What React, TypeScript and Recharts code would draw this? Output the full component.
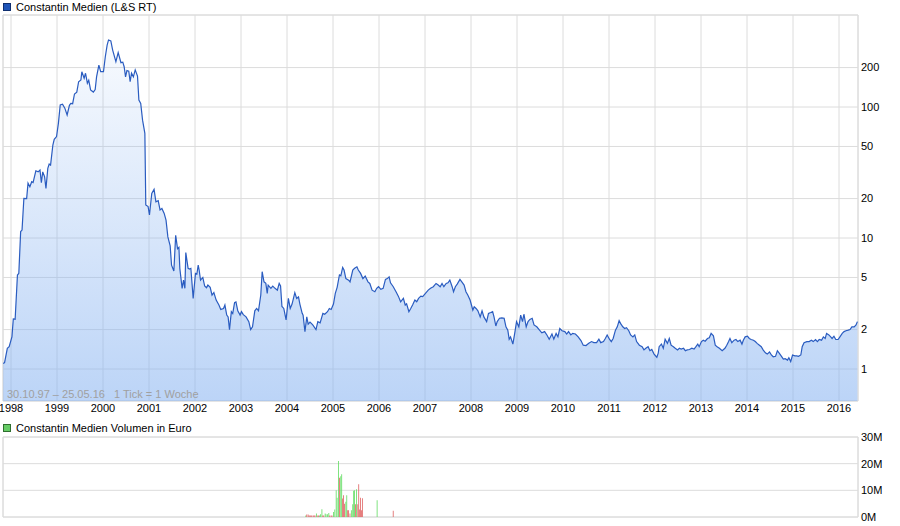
import React from 'react'
import { ComposedChart, Area, Bar, Cell, XAxis, YAxis, CartesianGrid, ReferenceArea } from 'recharts'

// Wochenkurse (Jahr als Dezimalzahl) – Constantin Medien, L&S RT
const priceDates = [
  1997.83, 1997.86, 1997.92, 1997.96, 1998.02, 1998.05, 1998.09, 1998.14, 1998.17, 1998.21,
  1998.24, 1998.28, 1998.34, 1998.37, 1998.41, 1998.45, 1998.48, 1998.54, 1998.59, 1998.63,
  1998.66, 1998.69, 1998.73, 1998.76, 1998.8, 1998.83, 1998.86, 1998.91, 1998.94, 1998.99,
  1999.03, 1999.07, 1999.12, 1999.17, 1999.22, 1999.27, 1999.3, 1999.34, 1999.38, 1999.43,
  1999.47, 1999.52, 1999.54, 1999.59, 1999.62, 1999.66, 1999.69, 1999.73, 1999.79, 1999.83,
  1999.86, 1999.91, 1999.95, 2000.01, 2000.05, 2000.09, 2000.12, 2000.17, 2000.21, 2000.28,
  2000.33, 2000.39, 2000.43, 2000.46, 2000.49, 2000.52, 2000.56, 2000.59, 2000.62, 2000.66,
  2000.7, 2000.75, 2000.78, 2000.82, 2000.86, 2000.91, 2000.93, 2000.98, 2001.01, 2001.06,
  2001.11, 2001.15, 2001.2, 2001.24, 2001.28, 2001.33, 2001.37, 2001.41, 2001.46, 2001.49,
  2001.54, 2001.58, 2001.62, 2001.65, 2001.67, 2001.72, 2001.75, 2001.78, 2001.8, 2001.85,
  2001.88, 2001.91, 2001.96, 2002.01, 2002.04, 2002.07, 2002.09, 2002.12, 2002.17, 2002.21,
  2002.25, 2002.28, 2002.33, 2002.37, 2002.41, 2002.46, 2002.52, 2002.56, 2002.62, 2002.65,
  2002.69, 2002.72, 2002.75, 2002.79, 2002.82, 2002.86, 2002.89, 2002.93, 2002.98, 2003.01,
  2003.05, 2003.11, 2003.17, 2003.21, 2003.25, 2003.3, 2003.34, 2003.38, 2003.43, 2003.46,
  2003.5, 2003.54, 2003.57, 2003.59, 2003.65, 2003.69, 2003.74, 2003.79, 2003.83, 2003.86,
  2003.89, 2003.93, 2003.98, 2004.03, 2004.07, 2004.11, 2004.17, 2004.21, 2004.25, 2004.28,
  2004.33, 2004.35, 2004.39, 2004.43, 2004.46, 2004.5, 2004.56, 2004.63, 2004.67, 2004.72,
  2004.78, 2004.82, 2004.88, 2004.92, 2004.96, 2005.01, 2005.05, 2005.09, 2005.14, 2005.17,
  2005.21, 2005.24, 2005.28, 2005.34, 2005.37, 2005.43, 2005.47, 2005.52, 2005.55, 2005.6,
  2005.65, 2005.7, 2005.76, 2005.8, 2005.85, 2005.91, 2005.95, 2005.99, 2006.04, 2006.09,
  2006.14, 2006.18, 2006.22, 2006.25, 2006.31, 2006.37, 2006.42, 2006.47, 2006.53, 2006.57,
  2006.6, 2006.65, 2006.69, 2006.73, 2006.78, 2006.82, 2006.86, 2006.91, 2006.95, 2007.01,
  2007.07, 2007.12, 2007.18, 2007.24, 2007.28, 2007.33, 2007.37, 2007.41, 2007.46, 2007.5,
  2007.54, 2007.59, 2007.62, 2007.66, 2007.7, 2007.76, 2007.8, 2007.85, 2007.89, 2007.93,
  2007.98, 2008.01, 2008.04, 2008.07, 2008.11, 2008.15, 2008.2, 2008.24, 2008.28, 2008.34,
  2008.38, 2008.43, 2008.47, 2008.5, 2008.54, 2008.57, 2008.62, 2008.67, 2008.72, 2008.76,
  2008.8, 2008.83, 2008.86, 2008.91, 2008.95, 2008.99, 2009.04, 2009.08, 2009.12, 2009.15,
  2009.2, 2009.24, 2009.28, 2009.33, 2009.37, 2009.43, 2009.49, 2009.54, 2009.6, 2009.65,
  2009.7, 2009.76, 2009.8, 2009.85, 2009.89, 2009.93, 2009.98, 2010.04, 2010.08, 2010.12,
  2010.17, 2010.21, 2010.27, 2010.33, 2010.39, 2010.44, 2010.5, 2010.56, 2010.62, 2010.67,
  2010.73, 2010.78, 2010.82, 2010.88, 2010.92, 2010.96, 2011.01, 2011.05, 2011.09, 2011.14,
  2011.18, 2011.22, 2011.25, 2011.3, 2011.34, 2011.38, 2011.43, 2011.47, 2011.52, 2011.56,
  2011.6, 2011.66, 2011.72, 2011.76, 2011.8, 2011.85, 2011.89, 2011.93, 2011.98, 2012.04,
  2012.07, 2012.09, 2012.14, 2012.18, 2012.22, 2012.27, 2012.31, 2012.35, 2012.4, 2012.44,
  2012.49, 2012.53, 2012.57, 2012.62, 2012.66, 2012.7, 2012.75, 2012.8, 2012.85, 2012.89,
  2012.93, 2012.96, 2013.01, 2013.05, 2013.09, 2013.14, 2013.18, 2013.22, 2013.27, 2013.31,
  2013.35, 2013.4, 2013.46, 2013.52, 2013.56, 2013.6, 2013.63, 2013.67, 2013.72, 2013.76,
  2013.8, 2013.85, 2013.89, 2013.92, 2013.96, 2014.01, 2014.05, 2014.09, 2014.14, 2014.18,
  2014.22, 2014.27, 2014.31, 2014.35, 2014.4, 2014.44, 2014.49, 2014.53, 2014.57, 2014.62,
  2014.66, 2014.7, 2014.75, 2014.79, 2014.83, 2014.88, 2014.91, 2014.95, 2014.99, 2015.04,
  2015.08, 2015.12, 2015.17, 2015.2, 2015.24, 2015.3, 2015.35, 2015.4, 2015.44, 2015.49,
  2015.53, 2015.57, 2015.62, 2015.66, 2015.7, 2015.73, 2015.78, 2015.82, 2015.85, 2015.89,
  2015.93, 2015.98, 2016.02, 2016.07, 2016.11, 2016.15, 2016.2, 2016.24, 2016.28, 2016.33,
  2016.37, 2016.4,
]

const priceValues = [
  1.1, 1.12, 1.44, 1.48, 1.76, 2.41, 2.4, 5.22, 5.38, 11.2,
  11.5, 20.1, 20, 26.2, 24.6, 26.9, 26.5, 32.6, 32, 33,
  26.4, 32, 29.4, 23.9, 34, 36.7, 36, 51.3, 56.7, 59.5,
  75.1, 103.6, 105, 98, 86.9, 103, 106.6, 106, 125.7, 130,
  156, 161, 186, 166, 181, 152, 160, 135, 130, 136,
  170, 209, 186, 186, 242, 297, 325, 320, 272, 222,
  260, 218, 220, 203, 170, 190, 188, 156, 181, 170,
  192, 172, 113, 106.6, 79.4, 63, 17.9, 17.4, 15, 21.9,
  23.5, 18.9, 19.3, 16.4, 16.8, 15.4, 13.7, 10.2, 8.7, 6.2,
  5.6, 10.5, 8.3, 8.5, 5.87, 4.13, 4.77, 4.13, 7.74, 5.87,
  5.8, 5.87, 3.46, 5.37, 5.3, 6.2, 5.7, 4.77, 5, 4.3,
  4.17, 4.37, 4.2, 3.67, 3.83, 3.36, 3.08, 2.85, 2.9, 3.08,
  2.58, 2.5, 2, 2.74, 2.65, 3.21, 3.25, 2.78, 2.58, 2.74,
  2.6, 2.5, 2.3, 2, 2.1, 2.78, 2.9, 2.78, 3.67, 5.53,
  4.63, 4.51, 3.78, 4.37, 4.13, 4.3, 4.13, 4, 4.5, 4.3,
  3, 2.9, 2.37, 3.46, 2.9, 3.13, 3.83, 3.46, 3.55, 3.13,
  2.66, 2.58, 1.93, 2.5, 2.2, 2.28, 2.17, 2, 2.3, 2.25,
  2.66, 2.62, 2.74, 2.9, 2.85, 3.13, 3.78, 4.2, 5.22, 5.15,
  5.97, 5.7, 4.9, 4.77, 4.63, 5.7, 5.87, 6.03, 5.7, 5.37,
  4.9, 5.12, 4.63, 4.5, 4, 3.89, 4.13, 4.25, 4.06, 4.13,
  4.83, 4.9, 5.05, 4.55, 4.25, 3.89, 3.6, 3.26, 3.46, 3.08,
  3.15, 2.74, 2.9, 3.08, 3.36, 3.26, 3.46, 3.6, 3.57, 3.78,
  4, 4.13, 4.25, 4.5, 4.4, 4.25, 4.5, 4.25, 4.5, 4.55,
  4.77, 4.25, 3.89, 4.25, 4.45, 4.83, 4.63, 4.37, 3.89, 3.67,
  3.36, 3.08, 2.82, 2.99, 2.9, 2.78, 2.5, 2.78, 2.5, 2.3,
  2.66, 2.7, 2.74, 2.5, 2.13, 2.3, 2.44, 2.46, 2.44, 2.1,
  1.98, 1.69, 1.76, 1.55, 1.87, 2.3, 2.1, 2.58, 2.3, 2.63,
  2.1, 2.3, 2.39, 2.44, 2.17, 2.1, 1.98, 1.89, 1.93, 1.82,
  1.69, 1.85, 1.69, 1.87, 1.76, 2.04, 1.96, 1.93, 1.85, 1.93,
  1.82, 1.87, 1.85, 1.76, 1.65, 1.52, 1.51, 1.57, 1.62, 1.59,
  1.59, 1.69, 1.59, 1.62, 1.71, 1.82, 1.69, 1.62, 1.71, 1.98,
  2.1, 2.34, 2.23, 2.1, 2.04, 2.07, 1.96, 1.82, 1.76, 1.82,
  1.62, 1.52, 1.48, 1.4, 1.44, 1.48, 1.38, 1.41, 1.3, 1.23,
  1.32, 1.48, 1.55, 1.44, 1.69, 1.57, 1.71, 1.52, 1.48, 1.44,
  1.4, 1.44, 1.42, 1.44, 1.38, 1.4, 1.41, 1.44, 1.42, 1.48,
  1.55, 1.48, 1.62, 1.66, 1.63, 1.71, 1.73, 1.87, 1.79, 1.52,
  1.48, 1.44, 1.38, 1.44, 1.52, 1.62, 1.71, 1.59, 1.66, 1.68,
  1.62, 1.66, 1.55, 1.66, 1.76, 1.78, 1.71, 1.68, 1.66, 1.62,
  1.57, 1.52, 1.48, 1.4, 1.33, 1.3, 1.35, 1.28, 1.24, 1.25,
  1.38, 1.32, 1.25, 1.19, 1.2, 1.17, 1.22, 1.14, 1.28, 1.26,
  1.26, 1.25, 1.28, 1.48, 1.59, 1.62, 1.62, 1.66, 1.62, 1.68,
  1.62, 1.68, 1.66, 1.76, 1.71, 1.87, 1.82, 1.76, 1.71, 1.78,
  1.68, 1.68, 1.76, 1.87, 1.93, 1.96, 1.98, 2, 2.1, 2.1,
  2.17, 2.3,
]

const yearTicks = [
  1998, 1999, 2000, 2001, 2002, 2003, 2004, 2005, 2006, 2007,
  2008, 2009, 2010, 2011, 2012, 2013, 2014, 2015, 2016,
]
const priceTicks = [1, 2, 5, 10, 20, 50, 100, 200]

// Wochenvolumen in Mio. Euro, u = Kurs gestiegen, d = Kurs gefallen
const volDates = [
  2004.41, 2004.43, 2004.46, 2004.48, 2004.5, 2004.52, 2004.54, 2004.57, 2004.59, 2004.61,
  2004.64, 2004.67, 2004.69, 2004.71, 2004.73, 2004.76, 2004.78, 2004.8, 2004.83, 2004.85,
  2004.88, 2004.91, 2004.93, 2004.96, 2004.98, 2005.01, 2005.04, 2005.07, 2005.09, 2005.12,
  2005.14, 2005.17, 2005.19, 2005.21, 2005.23, 2005.25, 2005.28, 2005.3, 2005.32, 2005.34,
  2005.37, 2005.4, 2005.43, 2005.45, 2005.47, 2005.49, 2005.51, 2005.54, 2005.56, 2005.58,
  2005.6, 2005.62, 2005.64, 2005.96, 2006.31,
]
const volValues = [
  0.6, 0.9, 0.9, 0.6, 0.6, 0.6, 0.6, 0.6, 0.6, 0.6,
  1.3, 0.6, 0.6, 0.6, 1.0, 2.9, 0.6, 0.6, 1.3, 1.0,
  1.0, 1.5, 0.6, 0.6, 0.6, 1.9, 2.8, 10, 7.2, 21,
  14.7, 15.3, 16, 6.9, 8.2, 5, 5.7, 8.2, 2.5, 2.5,
  1.3, 2.5, 4.8, 9.8, 10, 4.8, 10.4, 4.8, 12.3, 2.8,
  7.2, 2.5, 7, 6.3, 2.3,
]
const volDirection = [
  'u', 'd', 'd', 'd', 'd', 'd', 'd', 'd', 'd', 'd',
  'u', 'd', 'd', 'u', 'u', 'u', 'd', 'd', 'u', 'u',
  'u', 'u', 'd', 'd', 'd', 'u', 'u', 'u', 'u', 'u',
  'd', 'u', 'u', 'd', 'd', 'd', 'u', 'u', 'd', 'd',
  'd', 'u', 'u', 'u', 'u', 'd', 'u', 'd', 'd', 'd',
  'd', 'd', 'd', 'u', 'd',
]
const volTicks = [0, 10, 20, 30]

const xDomain = [1997.826, 2016.413]
const priceDomain = [0.57, 504]
const volDomain = [0, 30]

const priceData = priceDates.map((t, i) => ({ t, price: priceValues[i] }))
const volData = volDates.map((t, i) => ({ t, vol: volValues[i], dir: volDirection[i] }))

const FONT = "'Liberation Sans', Arial, sans-serif"
const GRID = '#dcdcdc'
const tickStyle = { fontSize: 11, fill: '#000', fontFamily: FONT }

function LegendBox({ top, color, border, label }: { top: number; color: string; border: string; label: string }) {
  return (
    <div style={{ position: 'absolute', left: 3, top, height: 14, display: 'flex', alignItems: 'center' }}>
      <div style={{ width: 6, height: 6, background: color, border: `1px solid ${border}` }} />
      <span style={{ marginLeft: 5, fontSize: 11, lineHeight: '14px', color: '#000' }}>{label}</span>
    </div>
  )
}

export default function App() {
  return (
    <div style={{ position: 'absolute', left: 0, top: 0, width: 900, height: 526, background: '#fff', fontFamily: FONT }}>
      <LegendBox top={0} color="#1f55b8" border="#0f2f70" label="Constantin Medien (L&S RT)" />

      <div style={{ position: 'absolute', left: 0, top: 0 }}>
        <ComposedChart width={900} height={420} data={priceData} margin={{ top: 15, right: 0, left: 3, bottom: 0 }}>
          <defs>
            <linearGradient id="priceFill" x1="0" y1="0" x2="0" y2="1">
              <stop offset="0%" stopColor="#89b4f1" stopOpacity={0.06} />
              <stop offset="100%" stopColor="#89b4f1" stopOpacity={0.57} />
            </linearGradient>
          </defs>
          <CartesianGrid stroke={GRID} strokeWidth={1} />
          <ReferenceArea x1={xDomain[0]} x2={xDomain[1]} y1={priceDomain[0]} y2={priceDomain[1]} stroke={GRID} fill="none" />
          <XAxis
            dataKey="t"
            type="number"
            domain={xDomain}
            ticks={yearTicks}
            allowDataOverflow
            axisLine={false}
            tickLine={false}
            tickSize={0}
            tickMargin={3}
            height={19}
            interval={0}
            tick={tickStyle}
          />
          <YAxis
            orientation="right"
            scale="log"
            type="number"
            domain={priceDomain}
            ticks={priceTicks}
            allowDataOverflow
            axisLine={false}
            tickLine={false}
            tickSize={0}
            tickMargin={3}
            width={42}
            interval={0}
            tick={tickStyle}
          />
          <Area
            type="linear"
            dataKey="price"
            baseValue="dataMin"
            stroke="#2a5cc0"
            strokeWidth={1.2}
            fill="url(#priceFill)"
            fillOpacity={1}
            dot={false}
            activeDot={false}
            isAnimationActive={false}
          />
        </ComposedChart>
      </div>

      <div style={{ position: 'absolute', left: 7, top: 388, fontSize: 11, lineHeight: '13px', color: '#a0a0a0', whiteSpace: 'pre' }}>
        {'30.10.97 – 25.05.16   1 Tick = 1 Woche'}
      </div>

      <LegendBox top={421} color="#66cc66" border="#2f6f2f" label="Constantin Medien Volumen in Euro" />

      <div style={{ position: 'absolute', left: 0, top: 430 }}>
        <ComposedChart width={900} height={96} data={volData} margin={{ top: 7, right: 0, left: 3, bottom: 9 }}>
          <CartesianGrid stroke={GRID} strokeWidth={1} />
          <ReferenceArea x1={xDomain[0]} x2={xDomain[1]} y1={volDomain[0]} y2={volDomain[1]} stroke={GRID} fill="none" />
          <XAxis
            dataKey="t"
            type="number"
            domain={xDomain}
            ticks={yearTicks}
            allowDataOverflow
            axisLine={false}
            tickLine={false}
            tick={false}
            height={0}
            interval={0}
          />
          <YAxis
            orientation="right"
            type="number"
            domain={volDomain}
            ticks={volTicks}
            axisLine={false}
            tickLine={false}
            tickSize={0}
            tickMargin={3}
            width={42}
            interval={0}
            tick={tickStyle}
            tickFormatter={(v: number) => `${v}M`}
          />
          <Bar dataKey="vol" barSize={1} isAnimationActive={false}>
            {volData.map((d, i) => (
              <Cell key={i} fill={d.dir === 'u' ? '#66dd66' : '#e06666'} />
            ))}
          </Bar>
        </ComposedChart>
      </div>
    </div>
  )
}
